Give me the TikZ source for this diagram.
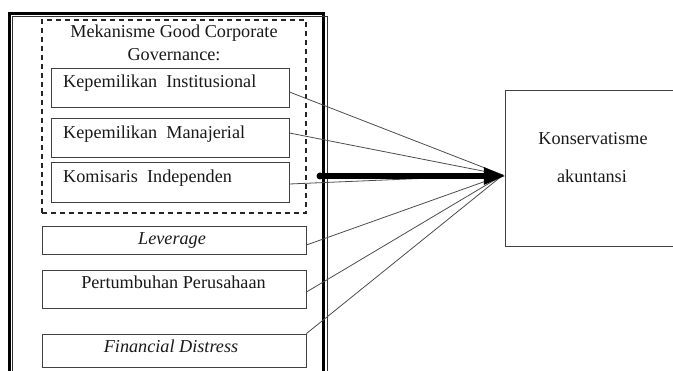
\documentclass[tikz,border=0pt]{standalone}
\usepackage{fontspec}
\setmainfont{Liberation Serif}
\usetikzlibrary{arrows.meta}
\begin{document}
\begin{tikzpicture}[x=1pt,y=-1pt,
  box/.style={draw=black!75, line width=0.9pt, inner sep=0pt},
  conn/.style={draw=black!70, line width=0.8pt},
  lbl/.style={font=\fontsize{18.2}{22}\selectfont, text=black!90, inner sep=0pt, anchor=base},
  ilbl/.style={lbl, font=\fontsize{18.2}{22}\selectfont\itshape}]
\useasboundingbox (0,0) rectangle (673,371);
\clip (0,0) rectangle (673,371);
% outer double frame
\draw[line width=3.2pt] (9.5,13.5) rectangle (323.5,420);
\draw[line width=1pt, black!80] (12.5,16.5) rectangle (327.5,420);
% dashed group
\node[draw=black!85, dashed, line width=1.2pt, dash pattern=on 5pt off 4pt, minimum width=264pt, minimum height=193pt, inner sep=0pt] (grp) at (174,116.5) {};
\node[lbl] (t1) at (174,38) {Mekanisme Good Corporate};
\node[lbl] (t2) at (174,61) {Governance:};
% boxes
\node[box, minimum width=238pt, minimum height=39pt] (ki) at (170,87.5) {};
\node[box, minimum width=238pt, minimum height=39pt] (km) at (170,137.5) {};
\node[box, minimum width=238pt, minimum height=40pt] (kom) at (170,182) {};
\node[box, minimum width=264pt, minimum height=28pt] (lev) at (174,240) {};
\node[box, minimum width=264pt, minimum height=38pt] (pert) at (174,289) {};
\node[box, minimum width=264pt, minimum height=33pt] (fd) at (174,350.5) {};
\node[inner sep=0pt, minimum width=190pt, minimum height=155pt] (kon) at (601,168.5) {};
\draw[black!75, line width=0.9pt] ([xshift=20pt]kon.north east) -- (kon.north west) -- (kon.south west) -- ([xshift=20pt]kon.south east);
% texts
\node[lbl, anchor=base west] (tki) at (63,88) {Kepemilikan\ \ Institusional};
\node[lbl, anchor=base west] (tkm) at (63,139) {Kepemilikan\ \ Manajerial};
\node[lbl, anchor=base west] (tkom) at (63,183) {Komisaris\ \ Independen};
\node[ilbl] (tlev) at (172,245) {Leverage};
\node[lbl] (tpert) at (173.5,289) {Pertumbuhan Perusahaan};
\node[ilbl] (tfd) at (171,353) {Financial Distress};
\node[lbl] (tkon1) at (593,145) {Konservatisme};
\node[lbl] (tkon2) at (592,183) {akuntansi};
% connectors
\coordinate (tip) at (503,175);
\draw[conn] ([yshift=-4.5pt]ki.east) -- (tip);
\draw[conn] ([yshift=4.5pt]km.east) -- (tip);
\draw[conn] ([yshift=-2pt]kom.east) -- (tip);
\draw[conn] ([yshift=-5pt]lev.east) -- (tip);
\draw[conn] ([yshift=-3pt]pert.east) -- (tip);
\draw[conn] (fd.north east) -- (tip);
% thick arrow
\coordinate (as) at (320,176);
\fill (as) circle (3.5);
\draw[line width=6pt, -{Triangle[length=22pt,width=16pt]}] (as) -- (as -| kon.west);
\end{tikzpicture}
\end{document}
